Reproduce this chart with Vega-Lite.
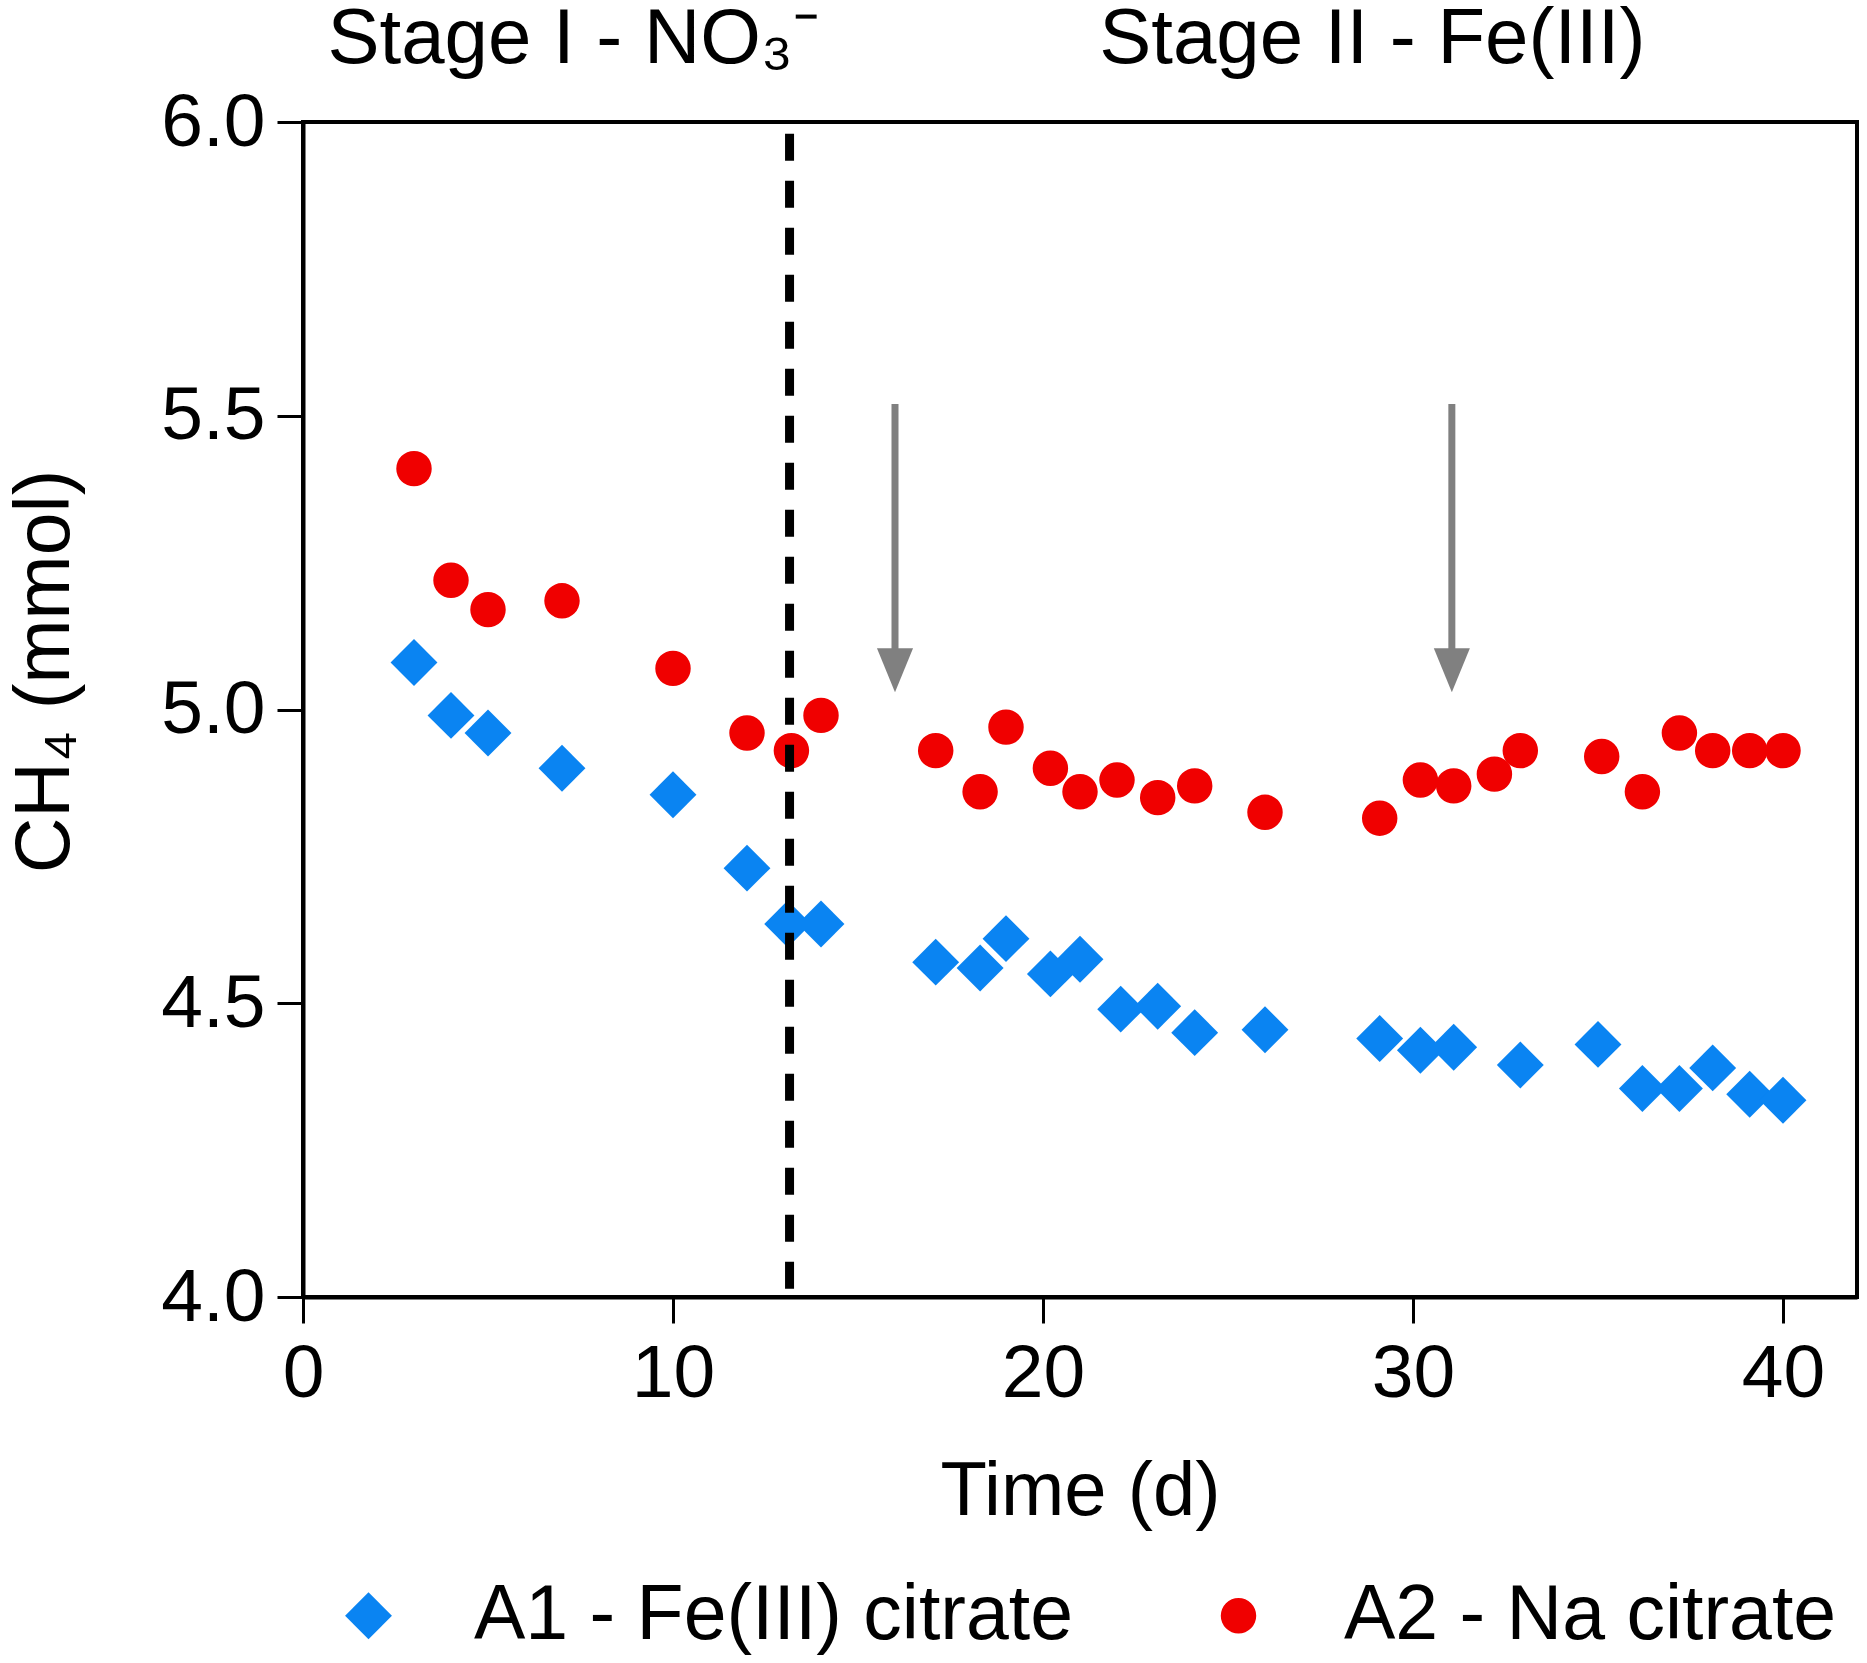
{
  "$schema": "https://vega.github.io/schema/vega-lite/v6.json",
  "width": 1554,
  "height": 1175,
  "autosize": {"type": "none"},
  "padding": {"left": 303, "top": 122, "right": 10, "bottom": 366},
  "background": "white",
  "datasets": {
    "points": [
      {"t": 3, "ch4": 5.08, "series": "A1 - Fe(III) citrate"},
      {"t": 4, "ch4": 4.99, "series": "A1 - Fe(III) citrate"},
      {"t": 5, "ch4": 4.96, "series": "A1 - Fe(III) citrate"},
      {"t": 7, "ch4": 4.9, "series": "A1 - Fe(III) citrate"},
      {"t": 10, "ch4": 4.855, "series": "A1 - Fe(III) citrate"},
      {"t": 12, "ch4": 4.73, "series": "A1 - Fe(III) citrate"},
      {"t": 13.1, "ch4": 4.635, "series": "A1 - Fe(III) citrate"},
      {"t": 14, "ch4": 4.635, "series": "A1 - Fe(III) citrate"},
      {"t": 17.1, "ch4": 4.57, "series": "A1 - Fe(III) citrate"},
      {"t": 18.3, "ch4": 4.56, "series": "A1 - Fe(III) citrate"},
      {"t": 19, "ch4": 4.61, "series": "A1 - Fe(III) citrate"},
      {"t": 20.2, "ch4": 4.55, "series": "A1 - Fe(III) citrate"},
      {"t": 21, "ch4": 4.575, "series": "A1 - Fe(III) citrate"},
      {"t": 22.1, "ch4": 4.49, "series": "A1 - Fe(III) citrate"},
      {"t": 23.1, "ch4": 4.495, "series": "A1 - Fe(III) citrate"},
      {"t": 24.1, "ch4": 4.45, "series": "A1 - Fe(III) citrate"},
      {"t": 26, "ch4": 4.455, "series": "A1 - Fe(III) citrate"},
      {"t": 29.1, "ch4": 4.44, "series": "A1 - Fe(III) citrate"},
      {"t": 30.2, "ch4": 4.42, "series": "A1 - Fe(III) citrate"},
      {"t": 31.1, "ch4": 4.425, "series": "A1 - Fe(III) citrate"},
      {"t": 32.9, "ch4": 4.395, "series": "A1 - Fe(III) citrate"},
      {"t": 35, "ch4": 4.43, "series": "A1 - Fe(III) citrate"},
      {"t": 36.2, "ch4": 4.355, "series": "A1 - Fe(III) citrate"},
      {"t": 37.2, "ch4": 4.355, "series": "A1 - Fe(III) citrate"},
      {"t": 38.1, "ch4": 4.39, "series": "A1 - Fe(III) citrate"},
      {"t": 39.1, "ch4": 4.345, "series": "A1 - Fe(III) citrate"},
      {"t": 40, "ch4": 4.335, "series": "A1 - Fe(III) citrate"},
      {"t": 3, "ch4": 5.41, "series": "A2 - Na citrate"},
      {"t": 4, "ch4": 5.22, "series": "A2 - Na citrate"},
      {"t": 5, "ch4": 5.17, "series": "A2 - Na citrate"},
      {"t": 7, "ch4": 5.185, "series": "A2 - Na citrate"},
      {"t": 10, "ch4": 5.07, "series": "A2 - Na citrate"},
      {"t": 12, "ch4": 4.96, "series": "A2 - Na citrate"},
      {"t": 13.2, "ch4": 4.93, "series": "A2 - Na citrate"},
      {"t": 14, "ch4": 4.99, "series": "A2 - Na citrate"},
      {"t": 17.1, "ch4": 4.93, "series": "A2 - Na citrate"},
      {"t": 18.3, "ch4": 4.86, "series": "A2 - Na citrate"},
      {"t": 19, "ch4": 4.97, "series": "A2 - Na citrate"},
      {"t": 20.2, "ch4": 4.9, "series": "A2 - Na citrate"},
      {"t": 21, "ch4": 4.86, "series": "A2 - Na citrate"},
      {"t": 22, "ch4": 4.88, "series": "A2 - Na citrate"},
      {"t": 23.1, "ch4": 4.85, "series": "A2 - Na citrate"},
      {"t": 24.1, "ch4": 4.87, "series": "A2 - Na citrate"},
      {"t": 26, "ch4": 4.825, "series": "A2 - Na citrate"},
      {"t": 29.1, "ch4": 4.815, "series": "A2 - Na citrate"},
      {"t": 30.2, "ch4": 4.88, "series": "A2 - Na citrate"},
      {"t": 31.1, "ch4": 4.87, "series": "A2 - Na citrate"},
      {"t": 32.2, "ch4": 4.89, "series": "A2 - Na citrate"},
      {"t": 32.9, "ch4": 4.93, "series": "A2 - Na citrate"},
      {"t": 35.1, "ch4": 4.92, "series": "A2 - Na citrate"},
      {"t": 36.2, "ch4": 4.86, "series": "A2 - Na citrate"},
      {"t": 37.2, "ch4": 4.96, "series": "A2 - Na citrate"},
      {"t": 38.1, "ch4": 4.93, "series": "A2 - Na citrate"},
      {"t": 39.1, "ch4": 4.93, "series": "A2 - Na citrate"},
      {"t": 40, "ch4": 4.93, "series": "A2 - Na citrate"}
    ],
    "arrows": [
      {"t": 16, "top": 5.52, "bottom": 5.09, "head": 5.067},
      {"t": 31.05, "top": 5.52, "bottom": 5.09, "head": 5.067}
    ],
    "divider": [
      {"t": 13.15, "top": 5.98, "bottom": 4.01}
    ],
    "stages": [
      {"t": 7.3, "y": 6.1, "label": "Stage I - NO₃⁻"},
      {"t": 28.9, "y": 6.1, "label": "Stage II - Fe(III)"}
    ]
  },
  "layer": [
    {
      "data": {"name": "points"},
      "mark": {"type": "point", "filled": true, "opacity": 1, "strokeWidth": 0},
      "encoding": {
        "x": {
          "field": "t",
          "type": "quantitative",
          "title": "Time (d)",
          "scale": {"domain": [0, 42], "nice": false, "zero": false},
          "axis": {"values": [0, 10, 20, 30, 40], "titlePadding": 43, "labelPadding": 14}
        },
        "y": {
          "field": "ch4",
          "type": "quantitative",
          "title": "CH₄ (mmol)",
          "scale": {"domain": [4, 6], "nice": false, "zero": false},
          "axis": {"values": [4, 4.5, 5, 5.5, 6], "format": ".1f", "titlePadding": 76, "labelPadding": 12, "titleFontSize": 77, "titleY": 549}
        },
        "color": {
          "field": "series",
          "type": "nominal",
          "title": null,
          "scale": {"domain": ["A1 - Fe(III) citrate", "A2 - Na citrate"], "range": ["#0A84F2", "#F00000"]},
          "legend": {
            "orient": "none",
            "legendX": 27,
            "legendY": 1455,
            "direction": "horizontal",
            "columns": 2,
            "columnPadding": 126,
            "labelOffset": 67,
            "symbolSize": 1900,
            "padding": 0
          }
        },
        "shape": {
          "field": "series",
          "type": "nominal",
          "title": null,
          "scale": {"domain": ["A1 - Fe(III) citrate", "A2 - Na citrate"], "range": ["diamond", "circle"]}
        },
        "size": {
          "field": "series",
          "type": "nominal",
          "scale": {"domain": ["A1 - Fe(III) citrate", "A2 - Na citrate"], "range": [2200, 1257]},
          "legend": null
        }
      }
    },
    {
      "data": {"name": "arrows"},
      "mark": {"type": "rule", "color": "#808080", "strokeWidth": 7},
      "encoding": {
        "x": {"field": "t", "type": "quantitative"},
        "y": {"field": "top", "type": "quantitative"},
        "y2": {"field": "bottom"}
      }
    },
    {
      "data": {"name": "arrows"},
      "mark": {"type": "point", "filled": true, "opacity": 1, "color": "#808080", "shape": "M-0.82,-1L0.82,-1L0,1Z", "size": 1936, "strokeWidth": 0},
      "encoding": {
        "x": {"field": "t", "type": "quantitative"},
        "y": {"field": "head", "type": "quantitative"}
      }
    },
    {
      "data": {"name": "divider"},
      "mark": {"type": "rule", "color": "black", "strokeWidth": 9, "strokeDash": [27, 20]},
      "encoding": {
        "x": {"field": "t", "type": "quantitative"},
        "y": {"field": "top", "type": "quantitative"},
        "y2": {"field": "bottom"}
      }
    },
    {
      "data": {"name": "stages"},
      "mark": {"type": "text", "fontSize": 78, "font": "Liberation Sans", "color": "black", "align": "center", "baseline": "alphabetic"},
      "encoding": {
        "x": {"field": "t", "type": "quantitative"},
        "y": {"field": "y", "type": "quantitative"},
        "text": {"field": "label"}
      }
    }
  ],
  "config": {
    "font": "Liberation Sans",
    "view": {"stroke": "black", "strokeWidth": 4},
    "axis": {
      "grid": false,
      "domainColor": "black",
      "domainWidth": 4,
      "tickColor": "black",
      "tickWidth": 3,
      "tickSize": 26,
      "labelFont": "Liberation Sans",
      "labelFontSize": 75,
      "labelColor": "black",
      "titleFont": "Liberation Sans",
      "titleFontSize": 76,
      "titleFontWeight": "normal",
      "titleColor": "black",
      "labelFlush": false,
      "labelOverlap": false
    },
    "legend": {
      "labelFont": "Liberation Sans",
      "labelFontSize": 77,
      "labelColor": "black",
      "labelLimit": 1000
    }
  }
}
